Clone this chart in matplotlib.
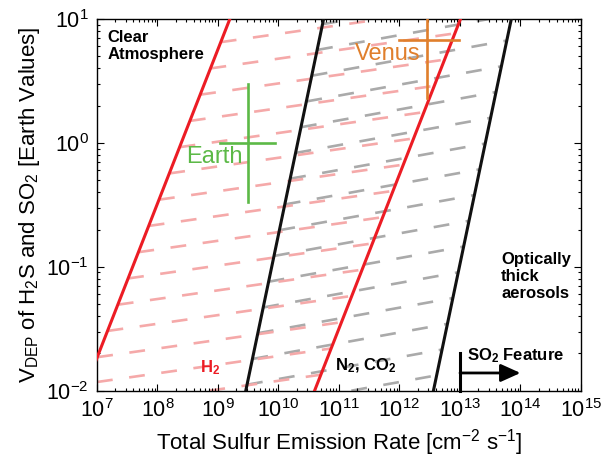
import numpy as np
import matplotlib
matplotlib.use('Agg')
import matplotlib.pyplot as plt
from matplotlib.ticker import LogLocator, NullFormatter

plt.rcParams['font.family'] = 'Liberation Sans'
plt.rcParams['mathtext.fontset'] = 'custom'
plt.rcParams['mathtext.rm'] = 'Liberation Sans'
plt.rcParams['mathtext.it'] = 'Liberation Sans:italic'
plt.rcParams['mathtext.bf'] = 'Liberation Sans:bold'
plt.rcParams['mathtext.default'] = 'regular'

# solid boundaries: x where each line meets y=1e-2 and y=1e1
red_bot = [6.12e6, 3.95e10]
red_top = [1.57e9, 1.02e13]
blk_bot = [2.88e9, 3.64e12]
blk_top = [5.57e10, 7.05e13]

# dashed guide lines: log10(y) at x=1e7 and log slope
pink_logy0 = [-2.33, -2.13, -1.93, -1.73, -1.53, -1.33, -1.13, -0.93, -0.73,
              -0.53, -0.33, -0.13, 0.07, 0.27, 0.47, 0.67, 0.87]
pink_slope = 0.07
gray_logy0 = [-2.57, -2.37, -2.17, -1.97, -1.77, -1.57, -1.37, -1.17, -0.97,
              -0.77, -0.57, -0.37, -0.17, 0.03, 0.23, 0.43, 0.63]
gray_slope = 0.088

# planets
earth_x, earth_xlo, earth_xhi = 3.1e9, 1.07e9, 8.9e9
earth_y, earth_ylo, earth_yhi = 1.0, 0.335, 3.0
venus_x, venus_xlo, venus_xhi = 2.9e12, 1.0e12, 9.8e12
venus_y, venus_ylo, venus_yhi = 6.8, 2.3, 10.0

so2_x = [1e13, 1e14]
so2_bar = [0.01, 0.02]
so2_arrow_y = 0.0139


def guide(ax, y0s, slope, left, right, color):
    lb1, lt1 = np.log10(left[0]), np.log10(left[1])
    lb2, lt2 = np.log10(right[0]), np.log10(right[1])
    m1 = 3 / (lt1 - lb1)
    m2 = 3 / (lt2 - lb2)
    for c in y0s:
        # where the dashed line meets the two solid lines
        xa = (c - 7 * slope + 2 + m1 * lb1) / (m1 - slope)
        xb = (c - 7 * slope + 2 + m2 * lb2) / (m2 - slope)
        xlo_ax = 7 + (-2 - c) / slope
        xhi_ax = 7 + (1 - c) / slope
        x0 = max(xa, 7, xlo_ax)
        x1 = min(xb, 15, xhi_ax)
        if x1 <= x0:
            continue
        lx = np.array([x0, x1])
        ly = c + slope * (lx - 7)
        ax.plot(10 ** lx, 10 ** ly, color=color, lw=1.9,
                dashes=(6, 6.3), dash_capstyle='butt', zorder=1)


fig = plt.figure(figsize=(6.02, 4.57), dpi=100)
ax = fig.add_axes([0.1611, 0.1451, 0.804, 0.8133])
ax.set_xscale('log')
ax.set_yscale('log')

guide(ax, gray_logy0, gray_slope, (blk_bot[0], blk_top[0]), (blk_bot[1], blk_top[1]), '#aaaaaa')
guide(ax, pink_logy0, pink_slope, (red_bot[0], red_top[0]), (red_bot[1], red_top[1]), '#f5a9a9')

for i in range(2):
    ax.plot([red_bot[i], red_top[i]], [1e-2, 1e1], color='#ec1c24', lw=2.2, zorder=3)
    ax.plot([blk_bot[i], blk_top[i]], [1e-2, 1e1], color='#111111', lw=2.2, zorder=3)

green = '#5cb947'
ax.plot([earth_xlo, earth_xhi], [earth_y, earth_y], color=green, lw=1.9, zorder=4)
ax.plot([earth_x, earth_x], [earth_ylo, earth_yhi], color=green, lw=1.9, zorder=4)
ax.text(8.6e8, 0.77, 'Earth', color=green, fontsize=17, ha='center', va='center', zorder=5)

orange = '#e07f2c'
ax.plot([venus_xlo, venus_xhi], [venus_y, venus_y], color=orange, lw=1.9, zorder=4)
ax.plot([venus_x, venus_x], [venus_ylo, venus_yhi], color=orange, lw=1.9, zorder=4)
ax.text(6.5e11, 5.2, 'Venus', color=orange, fontsize=17, ha='center', va='center', zorder=5)

ax.plot([so2_x[0], so2_x[0]], so2_bar, color='k', lw=2.2, zorder=5, clip_on=False)
ax.annotate('', xy=(so2_x[1], so2_arrow_y), xytext=(so2_x[0], so2_arrow_y),
            arrowprops=dict(arrowstyle='-|>,head_length=0.6,head_width=0.27',
                            lw=2, color='k', mutation_scale=20, shrinkA=0, shrinkB=0),
            zorder=5)
ax.text(1.3e13, 10 ** -1.752, r'$\mathbf{SO_2}$ Feature', fontsize=12,
        fontweight='bold', ha='left', va='baseline')
ax.text(8.6e10, 10 ** -1.833, r'$\mathbf{N_2}$, $\mathbf{CO_2}$', fontsize=12,
        fontweight='bold', ha='left', va='baseline')
ax.text(5.0e8, 10 ** -1.849, r'$\mathbf{H_2}$', fontsize=12, color='#ec1c24',
        fontweight='bold', ha='left', va='baseline')
ax.text(1.5e7, 8.1, 'Clear\nAtmosphere', fontsize=12, fontweight='bold',
        ha='left', va='top', linespacing=1.1)
ax.text(4.8e13, 0.131, 'Optically\nthick\naerosols', fontsize=12, fontweight='bold',
        ha='left', va='top', linespacing=1.15)

ax.set_xlim(1e7, 1e15)
ax.set_ylim(1e-2, 1e1)
ax.xaxis.set_major_locator(LogLocator(base=10, numticks=20))
ax.xaxis.set_minor_locator(LogLocator(base=10, subs=np.arange(2, 10), numticks=100))
ax.xaxis.set_minor_formatter(NullFormatter())
ax.yaxis.set_major_locator(LogLocator(base=10, numticks=20))
ax.yaxis.set_minor_locator(LogLocator(base=10, subs=np.arange(2, 10), numticks=100))
ax.yaxis.set_minor_formatter(NullFormatter())
ax.tick_params(which='both', direction='in', top=True, right=True, labelsize=15.5, width=0.8)
ax.tick_params(which='major', length=5, pad=6)
ax.tick_params(which='minor', length=2.5)
for s in ax.spines.values():
    s.set_linewidth(1.0)

ax.set_xlabel(r'Total Sulfur Emission Rate [cm$^{-2}$ s$^{-1}$]', fontsize=16, labelpad=4)
ax.set_ylabel(r'V$_{\rm DEP}$ of H$_2$S and SO$_2$ [Earth Values]', fontsize=16, labelpad=3)

fig.savefig('out.png', dpi=100)
